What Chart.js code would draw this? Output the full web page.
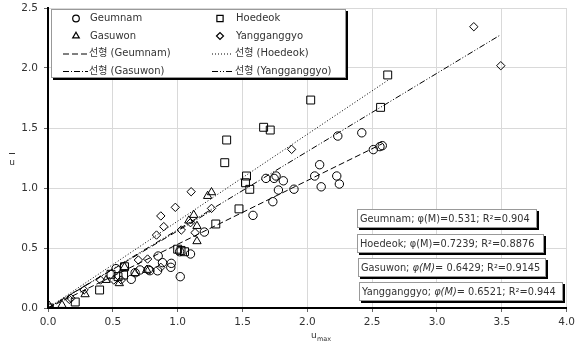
<!DOCTYPE html>
<html>
<head>
<meta charset="utf-8">
<script src="https://cdn.jsdelivr.net/npm/chart.js@4.4.1/dist/chart.umd.min.js"></script>
<style>
  html, body { margin: 0; padding: 0; background: #fff; }
  #wrap { width: 579px; height: 349px; position: relative; }
</style>
</head>
<body>
<div id="wrap"><canvas id="c" width="579" height="349"></canvas></div>
<script>
// values (u_max, u-bar)
const geumnamX = [0.525, 0.642, 0.672, 0.71, 0.774, 0.786, 0.845, 0.85, 0.883, 0.947, 0.951, 1.015, 1.02, 1.099, 1.206,
  1.581, 1.681, 1.734, 1.744, 1.759, 1.777, 1.815, 1.897, 2.057, 2.095, 2.107, 2.227, 2.235, 2.247, 2.42, 2.509, 2.56, 2.578];
const geumnamY = [0.328, 0.239, 0.294, 0.317, 0.32, 0.311, 0.31, 0.433, 0.378, 0.339, 0.372, 0.469, 0.261, 0.45, 0.633,
  0.772, 1.08, 0.886, 1.08, 1.10, 0.983, 1.06, 0.99, 1.10, 1.194, 1.01, 1.10, 1.433, 1.033, 1.46, 1.32, 1.345, 1.353];

const hoedeokX = [0.01, 0.21, 0.398, 0.486, 0.54, 0.583, 0.59, 1.0, 1.026, 1.053, 1.294, 1.363, 1.378, 1.473, 1.523,
  1.531, 1.556, 1.663, 1.714, 2.026, 2.565, 2.62];
const hoedeokY = [0.0, 0.05, 0.15, 0.281, 0.261, 0.275, 0.344, 0.49, 0.48, 0.469, 0.70, 1.211, 1.40, 0.826, 1.044,
  1.10, 0.989, 1.506, 1.483, 1.733, 1.672, 1.942];

const gasuwonX = [0.01, 0.108, 0.286, 0.448, 0.55, 0.59, 0.672, 0.761, 1.086, 1.124, 1.149, 1.149, 1.231, 1.261];
const gasuwonY = [0.017, 0.025, 0.114, 0.233, 0.206, 0.34, 0.29, 0.317, 0.728, 0.775, 0.683, 0.556, 0.933, 0.964];

const yangX = [0.164, 0.177, 0.278, 0.405, 0.507, 0.565, 0.697, 0.768, 0.837, 0.87, 0.87, 0.893, 0.982, 1.028, 1.099,
  1.104, 1.134, 1.261, 1.879, 3.284, 3.492];
const yangY = [0.072, 0.081, 0.15, 0.233, 0.233, 0.233, 0.4, 0.408, 0.608, 0.767, 0.339, 0.678, 0.839, 0.65, 0.711,
  0.969, 0.628, 0.83, 1.322, 2.344, 2.019];

// fitted slopes (through origin) and the x range each trend line covers
const seriesNames = ["Geumnam", "Hoedeok", "Gasuwon", "Yangganggyo"];
const slopes = [0.531, 0.7239, 0.6429, 0.6521];
const r2 = ["0.904", "0.8876", "0.9145", "0.944"];
const lineEndX = [2.578, 2.62, 1.261, 3.492];

const xTickLabels = ["0.0", "0.5", "1.0", "1.5", "2.0", "2.5", "3.0", "3.5", "4.0"];
const yTickLabels = ["0.0", "0.5", "1.0", "1.5", "2.0", "2.5"];

const FONT = "'DejaVu Sans', 'Noto Sans CJK KR', sans-serif";
const TXT = "#333";

const pts = (xs, ys) => xs.map((x, i) => ({ x: x, y: ys[i] }));
const dashes = [[6, 3], [1, 2], [6, 2, 1, 2], [6, 2, 1, 2, 1, 2]];
const styles = ["circle", "rect", "triangle", "rectRot"];
const radii = [4.2, 5.6, 4.8, 4.2];
const legendRadii = [3.3, 4.4, 3.8, 3.5];

const markerSets = [
  pts(geumnamX, geumnamY), pts(hoedeokX, hoedeokY), pts(gasuwonX, gasuwonY), pts(yangX, yangY)
];

const datasets = [];
slopes.forEach((m, i) => {
  datasets.push({
    type: "line",
    label: "선형 (" + seriesNames[i] + ")",
    data: [{ x: 0, y: 0 }, { x: lineEndX[i], y: m * lineEndX[i] }],
    borderColor: "#000",
    borderWidth: 1,
    borderDash: dashes[i],
    pointRadius: 0,
    fill: false,
    order: 2,
  });
});
markerSets.forEach((d, i) => {
  datasets.push({
    type: "scatter",
    label: seriesNames[i],
    data: d,
    pointStyle: styles[i],
    pointRadius: radii[i],
    pointBackgroundColor: "rgba(255,255,255,0)",
    pointBorderColor: "#000",
    pointBorderWidth: 1,
    order: 1,
  });
});

function box(ctx, x, y, w, h) {
  ctx.fillStyle = "#000";
  ctx.fillRect(x + 2, y + 2, w, h);
  ctx.fillStyle = "#fff";
  ctx.fillRect(x, y, w, h);
  ctx.strokeStyle = "#999";
  ctx.lineWidth = 1;
  ctx.strokeRect(x + 0.5, y + 0.5, w - 1, h - 1);
}

// legend, fit labels, y tick labels and axis titles drawn on top
const overlay = {
  id: "overlay",
  afterDraw(chart) {
    const ctx = chart.ctx;
    const ys = chart.scales.y;
    ctx.save();

    // y tick labels, placed through the y scale
    ctx.font = "10.5px " + FONT;
    ctx.fillStyle = TXT;
    ctx.textAlign = "right";
    ctx.textBaseline = "middle";
    yTickLabels.forEach((t) => {
      ctx.fillText(t, 38, ys.getPixelForValue(parseFloat(t)));
    });

    // legend
    box(ctx, 51, 9, 295, 69);
    ctx.font = "10px " + FONT;
    ctx.textAlign = "left";
    const rows = [18.5, 36, 53.5, 71];
    const colSym = [76, 220];
    const colTxt = [90, 236];
    const colLine = [[63, 88], [212, 233]];
    // marker entries: Geumnam, Hoedeok / Gasuwon, Yangganggyo
    const order = [[0, 1], [2, 3]];
    order.forEach((pair, r) => {
      pair.forEach((s, c) => {
        ctx.fillStyle = "#fff";
        ctx.strokeStyle = "#000";
        ctx.lineWidth = 1.2;
        Chart.helpers.drawPoint(ctx, {
          pointStyle: styles[s], radius: legendRadii[s], borderWidth: 1.2,
        }, colSym[c], rows[r]);
        ctx.fillStyle = TXT;
        ctx.fillText(seriesNames[s], colTxt[c], rows[r]);
      });
    });
    order.forEach((pair, r) => {
      pair.forEach((s, c) => {
        const y = rows[r + 2] + 0.5;
        ctx.save();
        ctx.lineWidth = 1;
        ctx.strokeStyle = "#000";
        ctx.setLineDash(dashes[s]);
        ctx.beginPath();
        ctx.moveTo(colLine[c][0], y);
        ctx.lineTo(colLine[c][1], y);
        ctx.stroke();
        ctx.restore();
        ctx.fillStyle = TXT;
        ctx.fillText("선형 (" + seriesNames[s] + ")", colTxt[c] - 1, rows[r + 2]);
      });
    });

    // fit annotation boxes
    const boxes = [
      { x: 357, y: 209, w: 180, cy: 219.5 },
      { x: 357, y: 234, w: 187, cy: 244 },
      { x: 358, y: 258, w: 188, cy: 268.5 },
      { x: 359, y: 282, w: 204, cy: 292.5 },
    ];
    boxes.forEach((b, i) => {
      box(ctx, b.x, b.y, b.w, 19);
      let x = b.x + 3;
      const parts = i < 2
        ? [[seriesNames[i] + "; φ(M)=", false], [slopes[i] + "; R²=" + r2[i], false]]
        : [[seriesNames[i] + "; ", false], ["φ(M)", true], ["= " + slopes[i] + "; R²=" + r2[i], false]];
      parts.forEach(([t, it]) => {
        ctx.font = (it ? "italic " : "") + "9.8px " + FONT;
        ctx.fillStyle = TXT;
        ctx.fillText(t, x, b.cy);
        x += ctx.measureText(t).width;
      });
    });

    // axis titles
    ctx.fillStyle = TXT;
    ctx.font = "9px " + FONT;
    ctx.fillText("u", 311, 336);
    ctx.font = "6.5px " + FONT;
    ctx.fillText("max", 317, 339);

    ctx.fillRect(9, 153, 6, 1);
    ctx.font = "9px " + FONT;
    ctx.textAlign = "center";
    ctx.fillText("u", 12, 163);
    ctx.restore();
  },
};

new Chart(document.getElementById("c"), {
  data: { datasets: datasets },
  options: {
    responsive: false,
    animation: false,
    layout: { padding: { top: 8, right: 6, left: 0, bottom: 0 } },
    plugins: { legend: { display: false }, tooltip: { enabled: false } },
    scales: {
      x: {
        type: "linear",
        min: 0, max: 4,
        afterFit: (s) => { s.height = 41; },
        ticks: {
          stepSize: 0.5, color: TXT, padding: 4, font: { family: FONT, size: 10.5 },
          callback: (v, i) => xTickLabels[i],
        },
        grid: { color: "#d9d9d9", tickColor: "#666", tickLength: 4, lineWidth: 1 },
        border: { color: "#000", width: 2 },
      },
      y: {
        type: "linear",
        min: 0, max: 2.5,
        afterFit: (s) => { s.width = 48; },
        ticks: { stepSize: 0.5, display: false },
        grid: { color: "#d9d9d9", tickColor: "#666", tickLength: 4, lineWidth: 1 },
        border: { color: "#000", width: 2 },
      },
    },
  },
  plugins: [overlay],
});
</script>
</body>
</html>
